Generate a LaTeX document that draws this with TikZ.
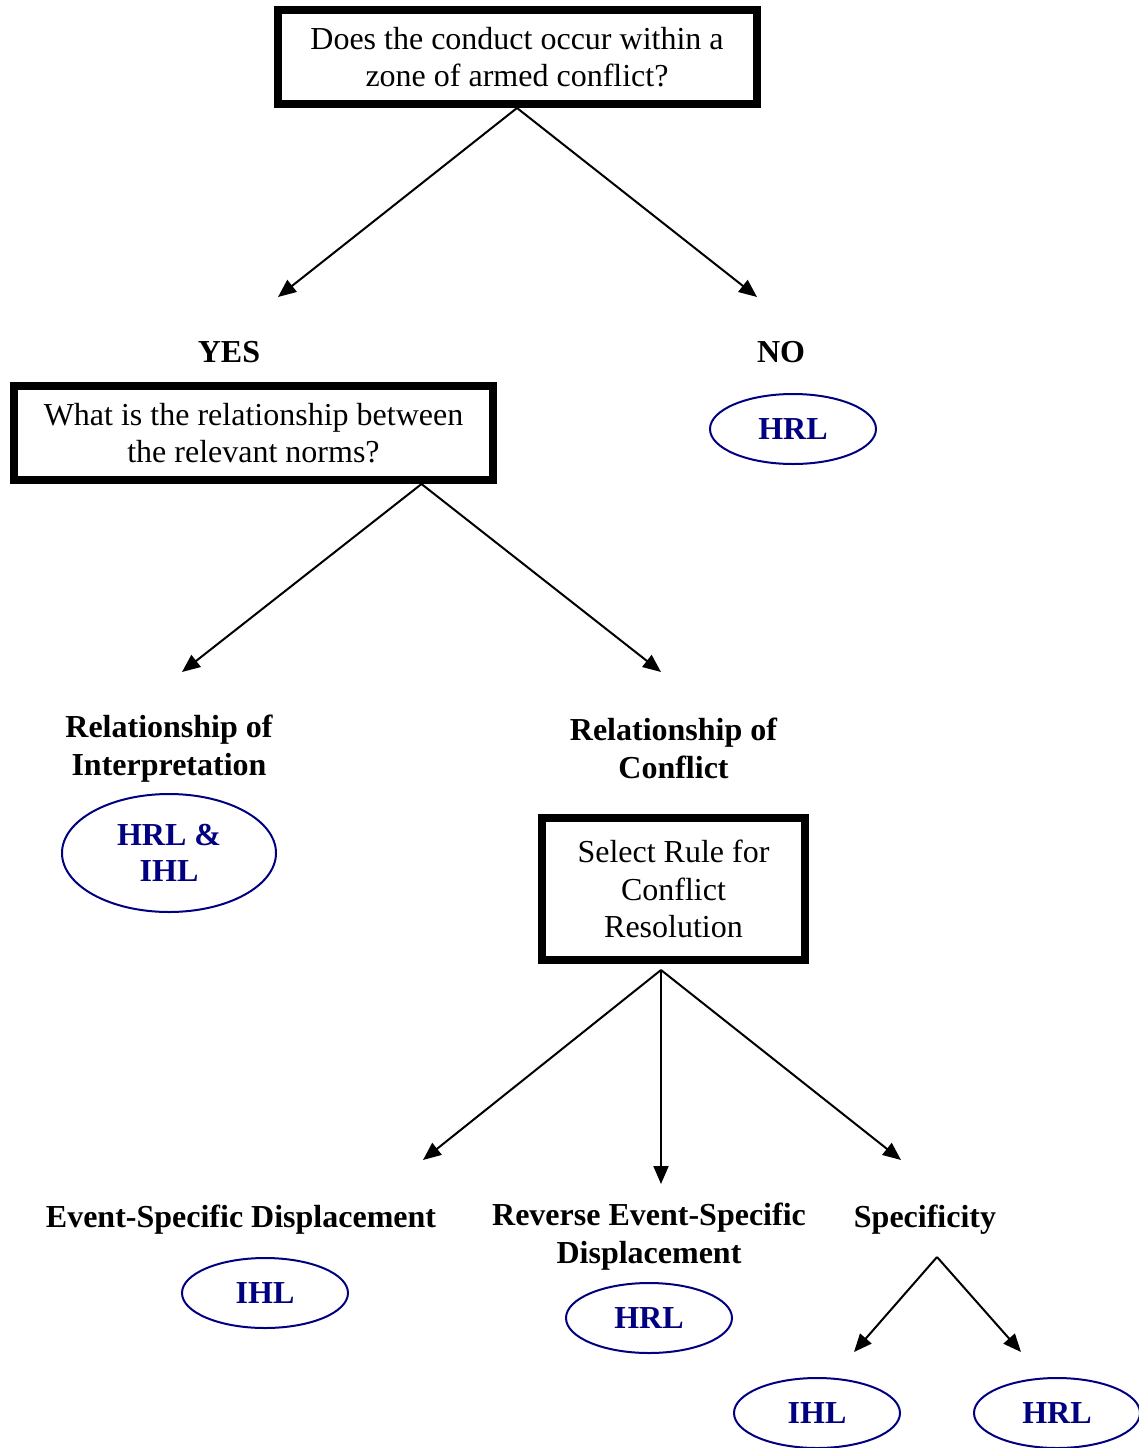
\documentclass[tikz,border=0pt]{standalone}
\usepackage{fontspec}
\setmainfont{Liberation Serif}
\usetikzlibrary{shapes.geometric,arrows.meta}
\definecolor{normblue}{RGB}{0,0,128}
\tikzstyle{question} = [rectangle, minimum width=479pt, minimum height=94pt, text centered, align=center, draw=black, line width=8pt, font=\fontsize{32}{37}\selectfont]
\tikzstyle{answer} = [align=center, font=\fontsize{32}{38}\selectfont\bfseries]
\tikzstyle{law} = [ellipse, minimum width=166pt, minimum height=70pt, inner sep=0pt, align=center, draw=normblue, line width=2pt, text=normblue, font=\fontsize{32}{36}\selectfont\bfseries]
\tikzstyle{arrow} = [line width=2pt,-{Triangle[length=18pt,width=15pt]}]

\begin{document}
\begin{tikzpicture}[x=1pt, y=1pt, node distance=100pt]
\useasboundingbox (0,0) rectangle (1138,-1448);
\node (q1) [question] at (517,-57) {Does the conduct occur within a\\zone of armed conflict?};
\node (yes) [answer, below of=q1, xshift=-288pt, yshift=-195pt] {YES};
\node (no) [answer, below of=q1, xshift=264pt, yshift=-195pt] {NO};
\node (q2) [question, below of=yes, xshift=24.5pt, yshift=19pt] {What is the relationship between\\the relevant norms?};
\node (hrlno) [law, below of=no, xshift=12pt, yshift=23pt] {HRL};
\node (interp) [answer, below of=q2, xshift=-84.5pt, yshift=-216pt] {Relationship of\\Interpretation};
\node (conflict) [answer, below of=q2, xshift=420pt, yshift=-215pt] {Relationship of\\Conflict};
\node (both) [law, minimum width=214pt, minimum height=118pt, below of=interp, yshift=-4pt] {HRL \&\\IHL};
\node (q3) [question, minimum width=263pt, minimum height=142pt, font=\fontsize{32}{37.5}\selectfont, below of=conflict, yshift=-41pt] {Select Rule for\\Conflict\\Resolution};
\node (esd) [answer, below of=q3, xshift=-432.5pt, yshift=-231pt] {Event-Specific Displacement};
\node (resd) [answer, below of=q3, xshift=-24.5pt, yshift=-248pt] {Reverse Event-Specific\\Displacement};
\node (spec) [answer, below of=q3, xshift=251.5pt, yshift=-231pt] {Specificity};
\node (ihl1) [law, below of=esd, xshift=24pt, yshift=27pt] {IHL};
\node (hrl1) [law, below of=resd, yshift=19pt] {HRL};
\node (ihl2) [law, below of=spec, xshift=-108pt, yshift=-93pt] {IHL};
\node (hrl2) [law, below of=spec, xshift=132pt, yshift=-93pt] {HRL};

% arrow tips stop short of the labels
\coordinate (yesend) at (278,-297);
\coordinate (noend) at (757,-297);
\coordinate (interpend) at (182,-672);
\coordinate (conflictend) at (661,-672);
\coordinate (esdend) at (423,-1160);
\coordinate (resdend) at (661,-1184);
\coordinate (specend) at (901,-1160);
\coordinate (fork) at (937,-1257);
\coordinate (ihlend) at (854,-1352);
\coordinate (hrlend) at (1021,-1352);

\draw [arrow] (q1.south) -- (yesend);
\draw [arrow] (q1.south) -- (noend);
\draw [arrow] ([xshift=168pt]q2.south) -- (interpend);
\draw [arrow] ([xshift=168pt]q2.south) -- (conflictend);
\draw [arrow] ([xshift=-12.5pt,yshift=-6pt]q3.south) -- (esdend);
\draw [arrow] ([xshift=-12.5pt,yshift=-6pt]q3.south) -- (resdend);
\draw [arrow] ([xshift=-12.5pt,yshift=-6pt]q3.south) -- (specend);
\draw [arrow] (fork) -- (ihlend);
\draw [arrow] (fork) -- (hrlend);
\end{tikzpicture}
\end{document}
